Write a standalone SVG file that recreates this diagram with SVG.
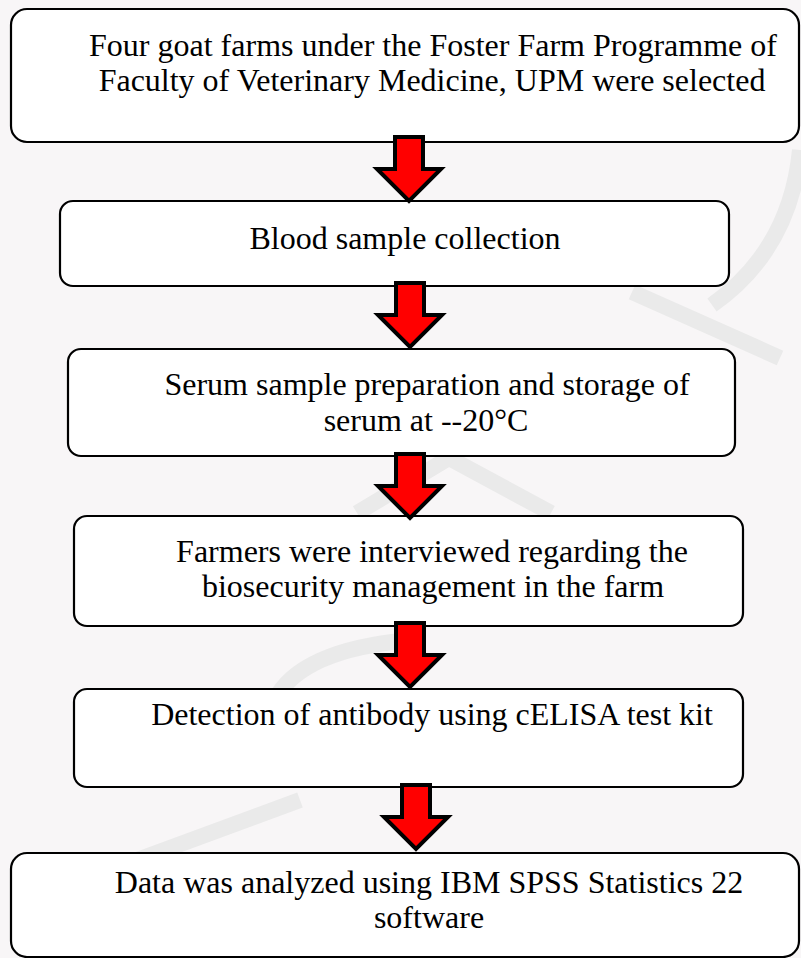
<svg xmlns="http://www.w3.org/2000/svg" width="801" height="958" viewBox="0 0 801 958">
<style>
.box{fill:#ffffff;stroke:#000000;stroke-width:2.2}
text{font-family:'Liberation Serif','Times New Roman',serif;font-size:32px;fill:#000000;text-anchor:middle}
.arr{fill:#ff0000;stroke:#000000;stroke-width:4;stroke-linejoin:miter}
.wm{fill:none;stroke:#eaeaea;stroke-width:16;stroke-linecap:butt}
</style>
<defs>
<path id="down" d="M -14 0 H 14 V 32 H 32 L 0 64 L -32 32 H -14 Z"/>
</defs>
<g id="background">
<rect x="0" y="0" width="801" height="958" fill="#f8f6f7"/>
<path class="wm" d="M 800 150 Q 790 250 712 305"/>
<path class="wm" d="M 632 292 L 780 358"/>
<path class="wm" d="M 357 513 L 449 458 L 551 513"/>
<path class="wm" d="M 410 640 Q 300 650 275 700"/>
<path class="wm" d="M 300 800 L 110 870 L 250 930"/>
</g>
<g id="node1">
<rect class="box" x="11" y="9" width="788" height="133" rx="16"/>
<text x="433" y="56">Four goat farms under the Foster Farm Programme of</text>
<text x="432" y="91">Faculty of Veterinary Medicine, UPM were selected</text>
</g>
<g id="node2">
<rect class="box" x="60" y="201" width="669" height="85" rx="13"/>
<text x="405" y="249">Blood sample collection</text>
</g>
<g id="node3">
<rect class="box" x="68" y="349" width="667" height="107" rx="13"/>
<text x="427" y="395">Serum sample preparation and storage of</text>
<text x="426" y="431">serum at --20°C</text>
</g>
<g id="node4">
<rect class="box" x="74" y="516" width="669" height="110" rx="13"/>
<text x="432" y="562">Farmers were interviewed regarding the</text>
<text x="433" y="597">biosecurity management in the farm</text>
</g>
<g id="node5">
<rect class="box" x="74" y="689" width="669" height="98" rx="13"/>
<text x="432" y="725">Detection of antibody using cELISA test kit</text>
</g>
<g id="node6">
<rect class="box" x="11" y="853" width="788" height="104" rx="16"/>
<text x="429" y="893">Data was analyzed using IBM SPSS Statistics 22</text>
<text x="429" y="928">software</text>
</g>
<g id="connectors">
<use href="#down" class="arr" transform="translate(409,137)"/>
<use href="#down" class="arr" transform="translate(410,283)"/>
<use href="#down" class="arr" transform="translate(410,454)"/>
<use href="#down" class="arr" transform="translate(410,623)"/>
<use href="#down" class="arr" transform="translate(416,785)"/>
</g>
</svg>
